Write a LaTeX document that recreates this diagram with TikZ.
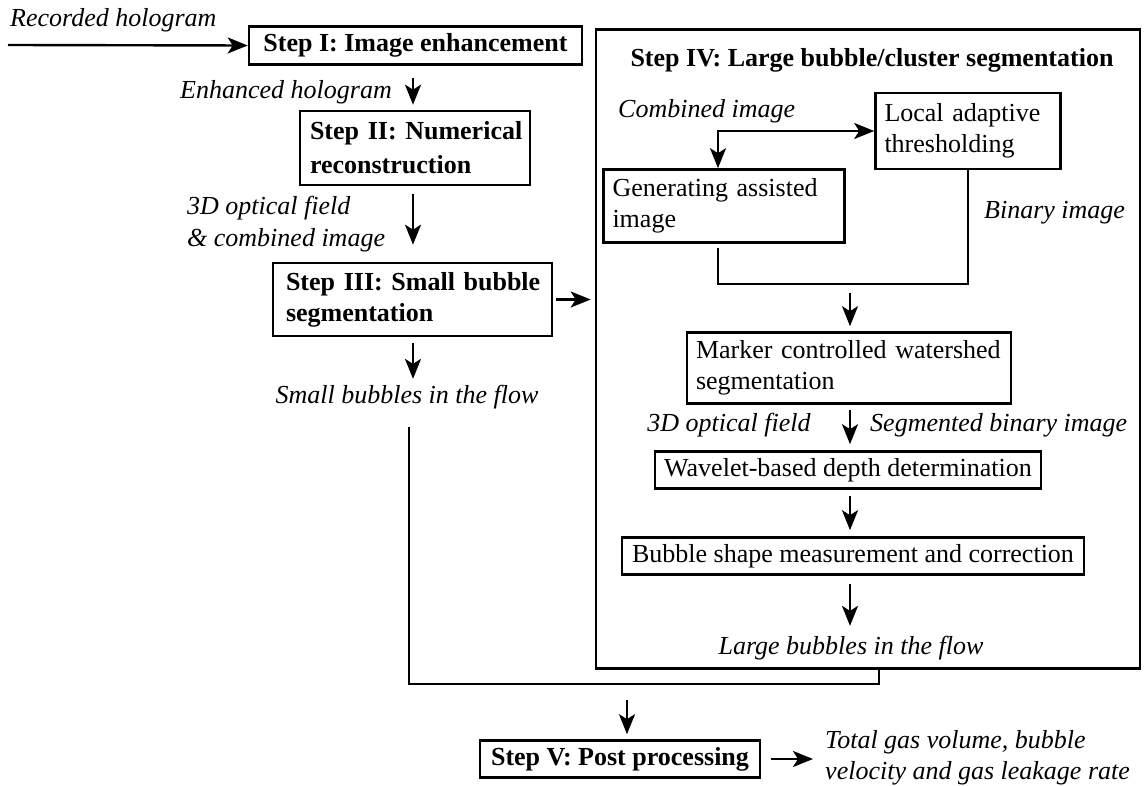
\documentclass[tikz,border=0pt]{standalone}
\usepackage{fontspec}
\setmainfont{Liberation Serif}
\usetikzlibrary{arrows.meta,calc}
\begin{document}
\begin{tikzpicture}[x=1pt,y=-1pt,
  every node/.style={font=\fontsize{26}{31}\selectfont, inner sep=0pt},
  box/.style={draw, line width=2.6pt},
  bbox/.style={box, font=\fontsize{26}{31}\selectfont\bfseries},
  lbl/.style={font=\fontsize{26}{31}\selectfont\itshape},
  arr/.style={line width=2.4pt, -{Stealth[length=20pt,width=16pt,inset=5pt]}},
  dblarr/.style={line width=2.4pt, {Stealth[length=20pt,width=16pt,inset=5pt]}-{Stealth[length=20pt,width=16pt,inset=5pt]}},
  conn/.style={line width=2.4pt}
]
\useasboundingbox (0,0) rectangle (1146,786);

% column coordinates
\coordinate (cx) at (413,0);
\coordinate (cy) at (850,0);
\coordinate (px) at (627,0);

% left column
\node[lbl, anchor=west] (rec) at (10,20) {Recorded hologram};
\coordinate (rs) at (8,45);
\node[bbox, minimum width=333, minimum height=38] (s1) at (415.5,45.5) {Step I: Image enhancement};
\node[lbl, anchor=east] (enh) at (392,92) {Enhanced hologram};
\node[bbox, minimum height=74, text width=210, inner xsep=10, align=left,
      font=\fontsize{26}{34}\selectfont\bfseries] (s2) at (415,148)
  {\mbox{Step II: Numerical}\\\mbox{reconstruction}};
\node[lbl, align=left, anchor=west, font=\fontsize{26}{32}\selectfont\itshape] (of1) at (187,224) {3D optical field\\\& combined image};
\node[bbox, minimum height=73, text width=253, inner xsep=13, align=left] (s3) at (412.5,299.5)
  {\mbox{Step III: Small bubble}\\\mbox{segmentation}};
\node[lbl] (small) at (407,397) {Small bubbles in the flow};

% Step IV frame
\node[box, minimum width=544, minimum height=639] (big) at (868,349) {};
\node[font=\fontsize{26}{31}\selectfont\bfseries] (title) at (872,60) {Step IV: Large bubble/cluster segmentation};
\node[lbl, anchor=west] (comb) at (618,111) {Combined image};
\node[box, minimum height=76, text width=167, inner xsep=9, align=left] (local) at (968,131)
  {\mbox{Local adaptive}\\\mbox{thresholding}};
\node[box, minimum height=73, text width=223, inner xsep=9, align=left] (gen) at (724,206)
  {\mbox{Generating assisted}\\\mbox{image}};
\node[lbl, anchor=west] (bin) at (984,213) {Binary image};
\node[box, minimum height=71, text width=306, inner xsep=9, align=left] (marker) at (849,368)
  {\mbox{Marker controlled watershed}\\\mbox{segmentation}};
\node[lbl] (of2) at (729,425) {3D optical field};
\node[lbl, anchor=west] (seg) at (870,425) {Segmented binary image};
\node[box, minimum width=386, minimum height=37] (wave) at (848,470) {Wavelet-based depth determination};
\node[box, minimum width=462, minimum height=37] (bub) at (853,556) {Bubble shape measurement and correction};
\node[lbl] (large) at (851,648) {Large bubbles in the flow};

% bottom
\node[bbox, minimum width=280, minimum height=37] (s5) at (620,759) {Step V: Post processing};
\node[lbl, align=left, anchor=west, font=\fontsize{26}{31}\selectfont\itshape] (total) at (825,758) {Total gas volume, bubble\\velocity and gas leakage rate};

% connectors, left column
\draw[arr] (rs) -- (s1.west);
\draw[arr] ($(s1.south -| cx)+(0,12)$) -- ($(s2.north -| cx)+(0,-5)$);
\draw[arr] ($(s2.south -| cx)+(0,8)$) -- ($(s3.north -| cx)+(0,-17)$);
\draw[arr] ($(s3.east)+(3,0)$) -- ($(s3.east -| big.west)+(-4,0)$);
\draw[arr] ($(s3.south -| cx)+(0,6)$) -- ($(small.north -| cx)+(0,-6)$);

% Step IV internals
\coordinate (sp) at (718,131);
\draw[dblarr] (sp |- gen.north) |- (sp -| local.west);
\coordinate (mg) at (718,284);
\draw[conn] ($(gen.south -| sp)+(0,4)$) |- (local.south |- mg) -- (local.south);
\draw[arr] ($(mg -| cy)+(0,9)$) -- ($(marker.north -| cy)+(0,-5)$);
\draw[arr] ($(marker.south -| cy)+(0,5)$) -- ($(wave.north -| cy)+(0,-6)$);
\draw[arr] ($(wave.south -| cy)+(0,6)$) -- ($(bub.north -| cy)+(0,-6)$);
\draw[arr] ($(bub.south -| cy)+(0,8)$) -- ($(large.north -| cy)+(0,-10)$);

% merge to Step V
\coordinate (lx) at (409,427);
\coordinate (mj) at (879,684);
\draw[conn] (lx) |- (mj) -- (mj |- big.south);
\draw[arr] ($(mj -| px)+(0,16)$) -- ($(s5.north -| px)+(0,-5)$);
\draw[arr] ($(s5.east)+(10,0)$) -- ($(total.west |- s5.east)+(-12,0)$);
\end{tikzpicture}
\end{document}
